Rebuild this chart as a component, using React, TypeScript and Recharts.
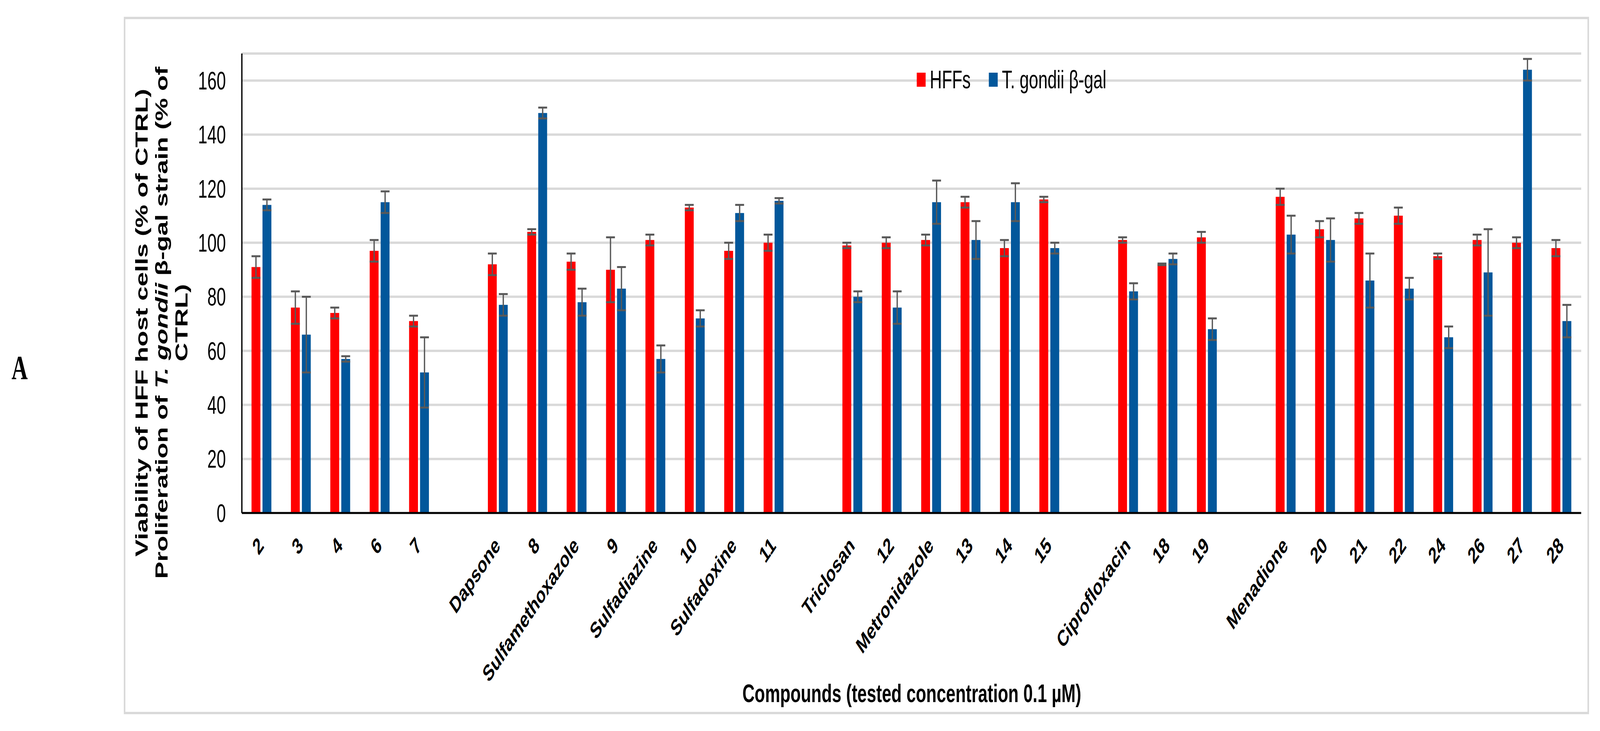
import React from "react";
import { BarChart, Bar, XAxis, YAxis, CartesianGrid, Legend, ErrorBar } from "recharts";

const FONT = "'Liberation Sans', Arial, Helvetica, sans-serif";
const W = 6126;
const H = 1871;

// compounds, '' marks the empty slot between groups
const categories = [
  "2", "3", "4", "6", "7", "",
  "Dapsone", "8", "Sulfamethoxazole", "9", "Sulfadiazine", "10", "Sulfadoxine", "11", "",
  "Triclosan", "12", "Metronidazole", "13", "14", "15", "",
  "Ciprofloxacin", "18", "19", "",
  "Menadione", "20", "21", "22", "24", "26", "27", "28",
];

const hffs = [91, 76, 74, 97, 71, null, 92, 104, 93, 90, 101, 113, 97, 100, null, 99, 100, 101, 115, 98, 116, null, 101, 92, 102, null, 117, 105, 109, 110, 95, 101, 100, 98];
const hffsErr = [4, 6, 2, 4, 2, null, 4, 1, 3, 12, 2, 1, 3, 3, null, 1, 2, 2, 2, 3, 1, null, 1, 0.3, 2, null, 3, 3, 2, 3, 1, 2, 2, 3];
const tgondii = [114, 66, 57, 115, 52, null, 77, 148, 78, 83, 57, 72, 111, 115.5, null, 80, 76, 115, 101, 115, 98, null, 82, 94, 68, null, 103, 101, 86, 83, 65, 89, 164, 71];
const tgondiiErr = [2, 14, 1, 4, 13, null, 4, 2, 5, 8, 5, 3, 3, 1, null, 2, 6, 8, 7, 7, 2, null, 3, 2, 4, null, 7, 8, 10, 4, 4, 16, 4, 6];

const yTicks = [0, 20, 40, 60, 80, 100, 120, 140, 160];
const seriesNames = ["HFFs", "T. gondii β-gal"];

const data = categories.map((name, i) => ({
  name,
  hffs: hffs[i],
  hffsErr: hffsErr[i],
  tg: tgondii[i],
  tgErr: tgondiiErr[i],
}));

const XTick = (props: any) => {
  const { x, payload } = props;
  if (!payload.value) return null;
  const ax = x + 12;
  const ay = 1400;
  return (
    <text
      x={ax}
      y={ay}
      textAnchor="end"
      transform={`rotate(-45 ${ax} ${ay})`}
      fontFamily={FONT}
      fontWeight="bold"
      fontSize={58}
      fill="#000"
    >
      {payload.value}
    </text>
  );
};

// y title, panel letter and the outer frame
const YTitle = () => (
  <g>
    <rect x={477} y={46} width={5604} height={1779} fill="none" stroke="#d9d9d9" strokeWidth={6} />
    <text x={75} y={970} textAnchor="middle" fontFamily="'Liberation Serif', 'Times New Roman', serif" fontWeight="bold" fontSize={86} fill="#000">
      A
    </text>
    <g fontFamily={FONT} fontWeight="bold" fontSize={66} fill="#000" textAnchor="middle">
      <text transform="translate(566 826) rotate(-90)">Viability of HFF host cells (% of CTRL)</text>
      <text transform="translate(642 826) rotate(-90)">
        Proliferation of <tspan fontStyle="italic">T. gondii</tspan> β-gal strain (% of
      </text>
      <text transform="translate(718 826) rotate(-90)">CTRL)</text>
    </g>
  </g>
);

const XTitle = () => (
  <text x={3491} y={1797} textAnchor="middle" fontFamily={FONT} fontWeight="bold" fontSize={65} fill="#000">
    Compounds (tested concentration 0.1 µM)
  </text>
);

const LegendContent = (props: any) => {
  const { payload = [] } = props;
  return (
    <div style={{ display: "flex", alignItems: "center", fontFamily: FONT, fontSize: 64, lineHeight: 1, whiteSpace: "nowrap", color: "#000" }}>
      {payload.map((p: any, i: number) => (
        <div key={i} style={{ display: "flex", alignItems: "center", marginRight: i === 0 ? 70 : 0 }}>
          <div style={{ width: 34, height: 36, background: p.color, marginRight: 16 }} />
          <span>{p.value}</span>
        </div>
      ))}
    </div>
  );
};

export default function App() {
  // the browser caps the window width, so fit the 6126x1871 chart into what we get
  const vw = typeof window !== "undefined" ? window.innerWidth : W;
  const vh = typeof window !== "undefined" ? window.innerHeight : H;
  const sx = Math.min(1, vw / W);
  const sy = Math.min(1, vh / H);

  return (
    <div style={{ position: "absolute", left: 0, top: 0, width: W * sx, height: H * sy, overflow: "hidden", background: "#fff" }}>
      <div style={{ width: W, height: H, transform: `scale(${sx}, ${sy})`, transformOrigin: "0 0" }}>
        <BarChart
          width={W}
          height={H}
          data={data}
          margin={{ top: 137, right: 72, left: 0, bottom: 0 }}
          barGap={8}
        >
          <CartesianGrid vertical={false} stroke="#d9d9d9" strokeWidth={6} />
          <XAxis
            dataKey="name"
            interval={0}
            height={558}
            tickLine={false}
            axisLine={{ stroke: "#000", strokeWidth: 5 }}
            tick={<XTick />}
            label={{ content: () => <XTitle /> }}
          />
          <YAxis
            type="number"
            domain={[0, 170]}
            ticks={yTicks}
            width={926}
            tickLine={false}
            tickSize={0}
            tickMargin={61}
            axisLine={{ stroke: "#000", strokeWidth: 5 }}
            tick={{ fill: "#000", fontSize: 64, fontFamily: FONT }}
            label={{ content: () => <YTitle /> }}
          />
          <Legend
            layout="vertical"
            verticalAlign="middle"
            align="center"
            content={<LegendContent />}
            wrapperStyle={{ left: 3510, top: 172, width: "auto", height: "auto" }}
          />
          <Bar dataKey="hffs" name={seriesNames[0]} fill="#ff0000" barSize={34} isAnimationActive={false}>
            <ErrorBar dataKey="hffsErr" width={17} strokeWidth={5} stroke="#595959" isAnimationActive={false} />
          </Bar>
          <Bar dataKey="tg" name={seriesNames[1]} fill="#02579b" barSize={34} isAnimationActive={false}>
            <ErrorBar dataKey="tgErr" width={17} strokeWidth={5} stroke="#595959" isAnimationActive={false} />
          </Bar>
        </BarChart>
      </div>
    </div>
  );
}
